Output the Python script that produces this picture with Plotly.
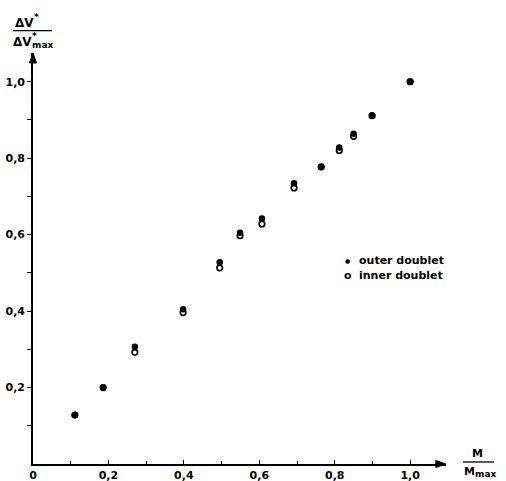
import plotly.graph_objects as go

# ---- data ----
m_ratio = [0.111, 0.186, 0.270, 0.398, 0.495, 0.549, 0.607, 0.692, 0.764, 0.812, 0.850, 0.899, 1.000]
outer_doublet = [0.128, 0.200, 0.307, 0.405, 0.528, 0.605, 0.642, 0.734, 0.777, 0.828, 0.864, 0.911, 1.000]
inner_doublet = [0.128, 0.200, 0.292, 0.396, 0.513, 0.597, 0.628, 0.722, 0.777, 0.820, 0.857, 0.911, 1.000]

major_ticks = [0.0, 0.2, 0.4, 0.6, 0.8, 1.0]
x_tick_labels = ["0", "0,2", "0,4", "0,6", "0,8", "1,0"]
y_major = [0.2, 0.4, 0.6, 0.8, 1.0]
y_tick_labels = ["0,2", "0,4", "0,6", "0,8", "1,0"]
minor_ticks = [0.1, 0.3, 0.5, 0.7, 0.9]

# ---- layout geometry ----
W, H = 506, 481
ML, MB = 33, 17
XMAX, YMAX = 1.095, 1.075
PW = 413
PH = 410.6
MR = W - ML - PW
MT = H - MB - PH

def px(x):
    return (x - ML) / PW

def py(y):
    return (H - MB - y) / PH

FONT = "DejaVu Sans"
BLACK = "#000000"

fig = go.Figure()
fig.add_trace(go.Scatter(
    x=m_ratio, y=inner_doublet, mode="markers", name="inner doublet",
    marker=dict(symbol="circle-open", size=5.5, color=BLACK, line=dict(width=1.7, color=BLACK)),
    cliponaxis=False, showlegend=False))
fig.add_trace(go.Scatter(
    x=m_ratio, y=outer_doublet, mode="markers", name="outer doublet",
    marker=dict(symbol="circle", size=6.5, color=BLACK, line=dict(width=0)),
    cliponaxis=False, showlegend=False))

axis_common = dict(showgrid=False, zeroline=False, showline=True, linecolor=BLACK,
                   linewidth=1.6, tickcolor=BLACK, tickwidth=1.3, ticklen=4,
                   tickfont=dict(family=FONT, size=11, color=BLACK, weight="bold"))

fig.update_xaxes(range=[0, XMAX], tickmode="array", tickvals=major_ticks, ticktext=x_tick_labels,
                 ticks="inside", minor=dict(tickvals=minor_ticks, ticks="inside", ticklen=3,
                                            tickcolor=BLACK, tickwidth=1.2),
                 **axis_common)
fig.update_yaxes(range=[0, YMAX], tickmode="array", tickvals=y_major, ticktext=y_tick_labels,
                 ticks="outside", minor=dict(tickvals=minor_ticks, ticks="outside", ticklen=4,
                                             tickcolor=BLACK, tickwidth=1.2),
                 **axis_common)

annotations = []

def label(text, x, y, size, anchor="center", bold=True):
    annotations.append(dict(x=px(x), y=py(y), xref="paper", yref="paper", showarrow=False,
                            text=text, xanchor=anchor, yanchor="middle", borderpad=0,
                            font=dict(family=FONT, size=size, color=BLACK,
                                      weight="bold" if bold else "normal")))

# y-axis title (fraction  ΔV* / ΔV*max)
label("ΔV", 35, 23, 12, "right")
label("*", 33, 17, 9, "left")
label("ΔV", 33, 42, 12, "right")
label("*", 31, 36, 9, "left")
label("max", 31, 45, 9, "left")
# x-axis title (fraction  M / Mmax)
label("M", 478, 454, 11)
label("M", 476, 471, 11, "right")
label("max", 474, 474, 9, "left")
# legend
label("●", 344, 261, 6, "left", bold=False)
label("outer doublet", 358, 261, 11, "left")
label("o", 343, 276, 11, "left")
label("inner doublet", 358, 276, 11, "left")

# axis arrowheads (x: tip at right end of axis; y: tip at top of axis)
x_tip, y_axis_px = ML + XMAX * 377, H - MB
y_tip_px = H - MB - YMAX * 382
x_head = f"M {px(x_tip)} {py(y_axis_px)} L {px(x_tip - 10)} {py(y_axis_px - 3.5)} L {px(x_tip - 10)} {py(y_axis_px + 3.5)} Z"
y_head = f"M {px(ML)} {py(y_tip_px)} L {px(ML - 3.5)} {py(y_tip_px + 10)} L {px(ML + 3.5)} {py(y_tip_px + 10)} Z"

shapes = [
    dict(type="line", xref="paper", yref="paper", x0=px(13), x1=px(52), y0=py(31), y1=py(31),
         line=dict(color=BLACK, width=1.3)),
    dict(type="line", xref="paper", yref="paper", x0=px(463), x1=px(494), y0=py(462), y1=py(462),
         line=dict(color=BLACK, width=1.3)),
    dict(type="path", xref="paper", yref="paper", path=x_head, fillcolor=BLACK, line=dict(color=BLACK, width=1)),
    dict(type="path", xref="paper", yref="paper", path=y_head, fillcolor=BLACK, line=dict(color=BLACK, width=1)),
]

fig.update_layout(width=W, height=H, margin=dict(l=ML, r=MR, t=MT, b=MB, autoexpand=False),
                  paper_bgcolor="white", plot_bgcolor="white", showlegend=False,
                  annotations=annotations, shapes=shapes)

fig.write_html("out.html")
